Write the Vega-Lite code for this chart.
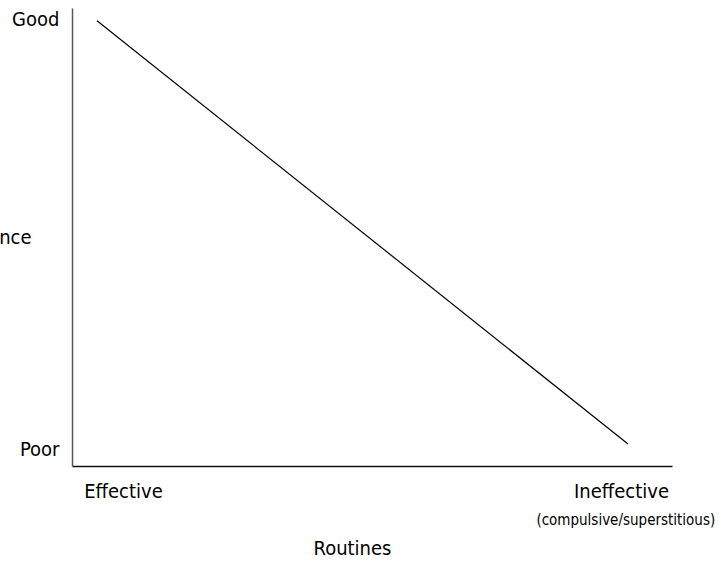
{
  "$schema": "https://vega.github.io/schema/vega-lite/v6.json",
  "width": 600,
  "height": 458,
  "autosize": {"type": "none"},
  "padding": {"left": 72, "top": 8, "right": 49, "bottom": 95},
  "background": "white",
  "config": {
    "view": {"stroke": null},
    "font": "DejaVu Sans Condensed"
  },
  "layer": [
    {
      "data": {"values": [
        {"routine": 4.17, "performance": 97.2},
        {"routine": 92.67, "performance": 4.8}
      ]},
      "mark": {"type": "line", "color": "black", "strokeWidth": 1.2},
      "encoding": {
        "x": {
          "field": "routine", "type": "quantitative",
          "scale": {"domain": [0, 100]},
          "axis": {
            "values": [8.5, 91.5],
            "labelExpr": "datum.value < 50 ? 'Effective' : 'Ineffective'",
            "grid": false, "ticks": false, "tickSize": 0,
            "domainColor": "#111", "domainWidth": 1.5,
            "labelFont": "DejaVu Sans Condensed", "labelFontSize": 20, "labelColor": "black",
            "labelBaseline": "middle", "labelPadding": 25, "labelFlush": false,
            "title": "Routines",
            "titleFont": "DejaVu Sans Condensed", "titleFontSize": 20, "titleFontWeight": "normal", "titleColor": "black",
            "titleX": 280, "titleY": 82, "titleAlign": "center", "titleBaseline": "middle"
          }
        },
        "y": {
          "field": "performance", "type": "quantitative",
          "scale": {"domain": [0, 100]},
          "axis": {
            "values": [97.4, 3.5],
            "labelExpr": "datum.value > 50 ? 'Good' : 'Poor'",
            "grid": false, "ticks": false, "tickSize": 0,
            "domainColor": "#555", "domainWidth": 1.5,
            "labelFont": "DejaVu Sans Condensed", "labelFontSize": 20, "labelColor": "black",
            "labelPadding": 13, "labelFlush": false, "labelBaseline": "middle",
            "title": "Performance",
            "titleFont": "DejaVu Sans Condensed", "titleFontSize": 20, "titleFontWeight": "normal", "titleColor": "black",
            "titleAngle": 0, "titleAlign": "right", "titleBaseline": "middle",
            "titleX": -41, "titleY": 229
          }
        }
      }
    },
    {
      "data": {"values": [
        {"routine": 92.3, "performance": -11.8, "label": "(compulsive/superstitious)"}
      ]},
      "mark": {"type": "text", "font": "DejaVu Sans Condensed", "fontSize": 15, "color": "black", "align": "center", "baseline": "middle"},
      "encoding": {
        "x": {"field": "routine", "type": "quantitative"},
        "y": {"field": "performance", "type": "quantitative"},
        "text": {"field": "label"}
      }
    }
  ]
}
